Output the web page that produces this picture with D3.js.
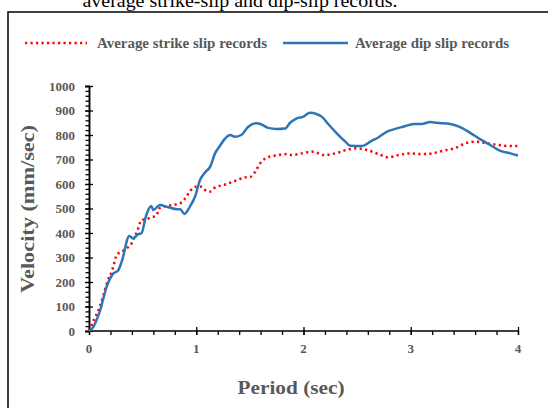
<!DOCTYPE html>
<html>
<head>
<meta charset="utf-8">
<script src="https://cdn.jsdelivr.net/npm/d3@7"></script>
<style>
  body { margin: 0; background: #fff; }
  text { font-family: "Liberation Serif", "DejaVu Serif", serif; }
</style>
</head>
<body>
<div id="chart"></div>
<script>
// strike slip (red dotted)
var strikeT = [0, 0.05, 0.10, 0.133, 0.17, 0.217, 0.264, 0.29, 0.35, 0.39, 0.41, 0.45, 0.49, 0.54, 0.58, 0.625, 0.66, 0.72, 0.82, 0.86, 0.91, 0.94, 1.0, 1.05, 1.08, 1.13, 1.17, 1.27, 1.36, 1.455, 1.51, 1.55, 1.595, 1.64, 1.735, 1.845, 1.89, 1.98, 2.09, 2.14, 2.19, 2.295, 2.40, 2.50, 2.59, 2.70, 2.79, 2.885, 2.99, 3.10, 3.20, 3.305, 3.41, 3.51, 3.60, 3.71, 3.82, 3.91, 4.0];
var strikeV = [0, 50, 99, 144, 200, 249, 314, 320, 338, 351, 371, 408, 453, 457, 465, 469, 502, 510, 518, 524, 550, 570, 589, 589, 576, 569, 584, 598, 612, 627, 630, 650, 684, 703, 716, 722, 718, 725, 732, 725, 718, 725, 739, 746, 739, 722, 709, 718, 725, 722, 725, 736, 746, 766, 773, 766, 759, 755, 755];

// dip slip (blue solid)
var dipT = [0, 0.03, 0.10, 0.165, 0.227, 0.27, 0.305, 0.376, 0.41, 0.46, 0.49, 0.53, 0.58, 0.60, 0.66, 0.74, 0.82, 0.85, 0.89, 0.94, 0.99, 1.035, 1.08, 1.13, 1.175, 1.22, 1.27, 1.315, 1.36, 1.42, 1.485, 1.56, 1.61, 1.67, 1.75, 1.83, 1.875, 1.937, 2.0, 2.06, 2.12, 2.17, 2.23, 2.31, 2.39, 2.435, 2.54, 2.635, 2.70, 2.775, 2.84, 2.93, 3.03, 3.10, 3.18, 3.24, 3.37, 3.45, 3.54, 3.65, 3.74, 3.83, 3.93, 4.0];
var dipV = [0, 10, 79, 181, 235, 246, 283, 388, 378, 395, 399, 467, 510, 494, 514, 505, 497, 497, 478, 507, 550, 616, 646, 671, 725, 755, 786, 800, 793, 800, 834, 848, 843, 829, 825, 827, 850, 868, 875, 891, 886, 875, 845, 807, 773, 756, 755, 776, 791, 813, 823, 834, 845, 845, 853, 850, 845, 834, 813, 782, 759, 736, 725, 716];

var xTicks = [0, 1, 2, 3, 4];
var yTicks = [0, 100, 200, 300, 400, 500, 600, 700, 800, 900, 1000];
var seriesNames = ["Average strike slip records", "Average dip slip records"];

var W = 548, H = 408;
var svg = d3.select("#chart").append("svg")
    .attr("width", W).attr("height", H);

// caption above the frame (cut off at the top)
svg.append("text")
    .attr("x", 240).attr("y", 7)
    .attr("text-anchor", "middle")
    .attr("textLength", 315).attr("lengthAdjust", "spacingAndGlyphs")
    .style("font-size", "19px")
    .attr("fill", "#000")
    .text("average strike-slip and dip-slip records.");

svg.append("rect")
    .attr("x", 8).attr("y", 12)
    .attr("width", 580).attr("height", 440)
    .attr("fill", "#fff")
    .attr("stroke", "#000").attr("stroke-width", 1.5);

var x = d3.scaleLinear().domain([0, 4]).range([89, 518]);
var y = d3.scaleLinear().domain([0, 1000]).range([331, 86]);

var grey = "#595959";

// x ticks: minor every 0.2 below, major crossing
var gx = svg.append("g").attr("transform", "translate(0,331)");
gx.call(d3.axisBottom(x).tickValues(d3.range(0, 4.01, 0.2)).tickSize(4).tickFormat(""));
gx.append("g").call(d3.axisBottom(x).tickValues(xTicks).tickSize(4).tickFormat(""))
    .selectAll(".tick line").attr("y1", -4);
gx.selectAll("g > .domain").remove();
gx.selectAll("line").attr("stroke", "#000").attr("stroke-width", 1.3);

// y ticks: minor every 20 outside, major crossing
var gy = svg.append("g").attr("transform", "translate(89,0)");
gy.call(d3.axisLeft(y).tickValues(d3.range(0, 1001, 20)).tickSize(3.5).tickFormat(""));
gy.append("g").call(d3.axisLeft(y).tickValues(yTicks).tickSize(4).tickFormat(""))
    .selectAll(".tick line").attr("x1", 4);
gy.selectAll("path").attr("stroke", "#000").attr("stroke-width", 1.5);
gy.selectAll("line").attr("stroke", "#000").attr("stroke-width", 1.3);

svg.append("line").attr("x1", 89).attr("x2", 518).attr("y1", 331).attr("y2", 331)
    .attr("stroke", "#000").attr("stroke-width", 1.5);

// tick labels
svg.selectAll(".xl").data(xTicks).enter().append("text")
    .attr("x", function(d) { return x(d); })
    .attr("y", 353)
    .attr("text-anchor", "middle")
    .style("font-size", "13px").style("font-weight", "bold")
    .attr("fill", grey)
    .text(function(d) { return d; });

svg.selectAll(".yl").data(yTicks).enter().append("text")
    .attr("x", 75)
    .attr("y", function(d) { return y(d); })
    .attr("dy", "0.35em")
    .attr("text-anchor", "end")
    .style("font-size", "13px").style("font-weight", "bold")
    .attr("fill", grey)
    .text(function(d) { return d; });

// axis titles
svg.append("text")
    .attr("x", 291).attr("y", 394)
    .attr("text-anchor", "middle")
    .attr("textLength", 107).attr("lengthAdjust", "spacingAndGlyphs")
    .style("font-size", "19px").style("font-weight", "bold")
    .attr("fill", grey)
    .text("Period (sec)");

svg.append("text")
    .attr("transform", "translate(34,209) rotate(-90)")
    .attr("text-anchor", "middle")
    .attr("textLength", 168).attr("lengthAdjust", "spacingAndGlyphs")
    .style("font-size", "19px").style("font-weight", "bold")
    .attr("fill", grey)
    .text("Velocity (mm/sec)");

// lines
var strike = strikeT.map(function(t, i) { return { t: t, v: strikeV[i] }; });
var dip = dipT.map(function(t, i) { return { t: t, v: dipV[i] }; });

var line = d3.line()
    .x(function(d) { return x(d.t); })
    .y(function(d) { return y(d.v); })
    .curve(d3.curveMonotoneX);

svg.append("path").datum(strike)
    .attr("d", line)
    .attr("fill", "none")
    .attr("stroke", "#ff0000")
    .attr("stroke-width", 2.5)
    .attr("stroke-dasharray", "2.2,3.3");

svg.append("path").datum(dip)
    .attr("d", line)
    .attr("fill", "none")
    .attr("stroke", "#2e75b6")
    .attr("stroke-width", 2.5);

// legend
var leg = svg.append("g");
leg.append("line").attr("x1", 25).attr("x2", 87).attr("y1", 43).attr("y2", 43)
    .attr("stroke", "#ff0000").attr("stroke-width", 2.5).attr("stroke-dasharray", "2.2,3.3");
leg.append("text").attr("x", 97).attr("y", 48)
    .attr("textLength", 170).attr("lengthAdjust", "spacingAndGlyphs")
    .style("font-size", "14.5px").style("font-weight", "bold").attr("fill", grey)
    .text(seriesNames[0]);
leg.append("line").attr("x1", 283).attr("x2", 348).attr("y1", 43).attr("y2", 43)
    .attr("stroke", "#2e75b6").attr("stroke-width", 2.5);
leg.append("text").attr("x", 355).attr("y", 48)
    .attr("textLength", 154).attr("lengthAdjust", "spacingAndGlyphs")
    .style("font-size", "14.5px").style("font-weight", "bold").attr("fill", grey)
    .text(seriesNames[1]);
</script>
</body>
</html>
